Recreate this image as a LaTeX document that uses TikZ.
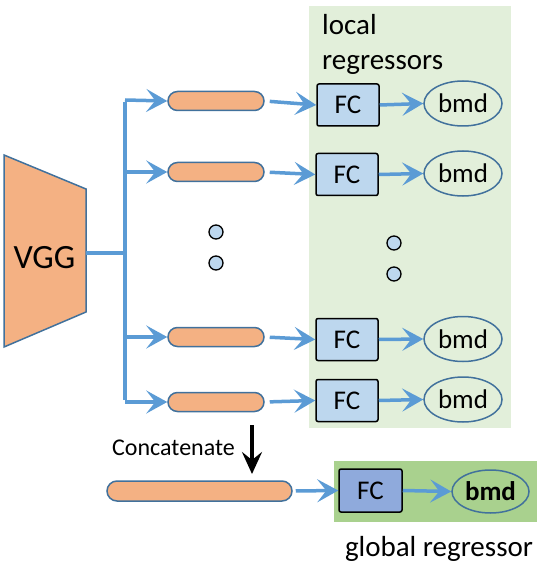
\documentclass[tikz,border=0pt]{standalone}
\usepackage{fontspec}
\setmainfont{Carlito}
\usetikzlibrary{arrows.meta,shapes.geometric}
\definecolor{salmon}{HTML}{F4B183}
\definecolor{edgeblue}{HTML}{41719C}
\definecolor{lineblue}{HTML}{5B9BD5}
\definecolor{fcblue}{HTML}{BDD7EE}
\definecolor{fcdark}{HTML}{8FAADC}
\definecolor{localgreen}{HTML}{E2EFDA}
\definecolor{globalgreen}{HTML}{A9D18E}
\newcommand{\fsmain}{\fontsize{27}{33}\selectfont}
\newcommand{\fslabel}{\fontsize{29}{35}\selectfont}
\begin{document}
\begin{tikzpicture}[x=1pt,y=-1pt,
  flow/.style={draw=lineblue, line width=3.5pt, -{Stealth[length=21pt,width=23pt,inset=9pt]}},
  feat/.style={draw=edgeblue, line width=1.5pt, fill=salmon, rounded corners=9.5pt, minimum width=96pt, minimum height=19pt, inner sep=0pt},
  fcbox/.style={draw=black, line width=1.5pt, fill=fcblue, rounded corners=2pt, minimum width=62pt, minimum height=42pt, inner sep=0pt, font=\fsmain},
  bmdnode/.style={ellipse, draw=edgeblue, line width=1.5pt, minimum width=78pt, minimum height=45pt, inner sep=0pt, font=\fsmain},
  dotnode/.style={circle, draw=black, line width=1.3pt, fill=fcblue, minimum size=14pt, inner sep=0pt},
  lbl/.style={inner sep=0pt, font=\fslabel}
]
\useasboundingbox (0,0) rectangle (558,569);

% green panels
\fill[localgreen] (309,6) rectangle (511,428);
\fill[globalgreen] (334,461) rectangle (537,522);

% VGG trapezoid
\draw[edgeblue, line width=1.5pt, fill=salmon] (4,155) -- (86,189) -- (86,312) -- (4,347) -- cycle;
\node[inner sep=0pt, font=\fontsize{34}{40}\selectfont] (vgg) at (44.5,258) {VGG};
\coordinate (vggout) at (86,253);

% branch coordinates
\coordinate (j) at (125,253);
\coordinate (b1) at (125,100);
\coordinate (b2) at (125,172);
\coordinate (b3) at (125,337);
\coordinate (b4) at (125,402);

% feature capsules
\node[feat] (c1) at (216,101) {};
\node[feat] (c2) at (216,172) {};
\node[feat] (c3) at (216,337) {};
\node[feat] (c4) at (216,402) {};

% dots
\node[dotnode] (d1) at (216,232) {};
\node[dotnode] (d2) at (216,263) {};
\node[dotnode] (d3) at (394,243) {};
\node[dotnode] (d4) at (394,274) {};

% FC boxes
\node[fcbox] (fc1) at (348,105) {FC};
\node[fcbox] (fc2) at (347,174.5) {FC};
\node[fcbox] (fc3) at (347,339.5) {FC};
\node[fcbox] (fc4) at (347,400.5) {FC};

% bmd ellipses
\node[bmdnode] (m1) at (463,103.5) {bmd};
\node[bmdnode] (m2) at (463,173.5) {bmd};
\node[bmdnode] (m3) at (463,339) {bmd};
\node[bmdnode] (m4) at (463,399.5) {bmd};

% labels
\node[lbl, anchor=base west] (t1) at (322,35) {local};
\node[lbl, anchor=base west] (t2) at (322,70) {regressors};

% trunk lines
\draw[lineblue, line width=3.5pt] (vggout) -- (j);
\draw[lineblue, line width=3.5pt] ([yshift=-1.75pt]b1) -- ([yshift=1.75pt]b4);

% branch arrows
\draw[flow] (b1) -- (c1.west);
\draw[flow] (b2) -- (c2.west);
\draw[flow] (b3) -- (c3.west);
\draw[flow] (b4) -- (c4.west);

% capsule -> FC
\draw[flow, shorten <=5pt] (c1.east) -- (fc1.west);
\draw[flow, shorten <=5pt] (c2.east) -- (fc2.west);
\draw[flow, shorten <=5pt] (c3.east) -- (fc3.west);
\draw[flow, shorten <=5pt] (c4.east) -- (fc4.west);

% FC -> bmd
\draw[flow] (fc1.east) -- (m1.west);
\draw[flow] (fc2.east) -- (m2.west);
\draw[flow] (fc3.east) -- (m3.west);
\draw[flow] (fc4.east) -- (m4.west);

% concatenate
\coordinate (ca) at (252,425);
\coordinate (cb) at (252,474);
\draw[black, line width=3.2pt, -{Stealth[length=22pt,width=20pt,inset=8pt]}] (ca) -- (cb);
\node[inner sep=0pt, font=\fontsize{24}{29}\selectfont, anchor=base] (concat) at (173.5,455) {Concatenate};

% global branch
\node[feat, minimum width=185pt, minimum height=20pt, rounded corners=10pt] (cg) at (199.5,491) {};
\node[fcbox, fill=fcdark, minimum width=63pt, minimum height=43pt] (fcg) at (370.5,490.5) {FC};
\node[bmdnode, minimum width=77pt, minimum height=43pt, font=\fsmain\bfseries] (mg) at (490.5,491.5) {bmd};
\draw[flow, shorten <=3pt] (cg.east) -- (fcg.west);
\draw[flow] (fcg.east) -- (mg.west);
\node[lbl, anchor=base] (tg) at (439,556) {global regressor};
\end{tikzpicture}
\end{document}
